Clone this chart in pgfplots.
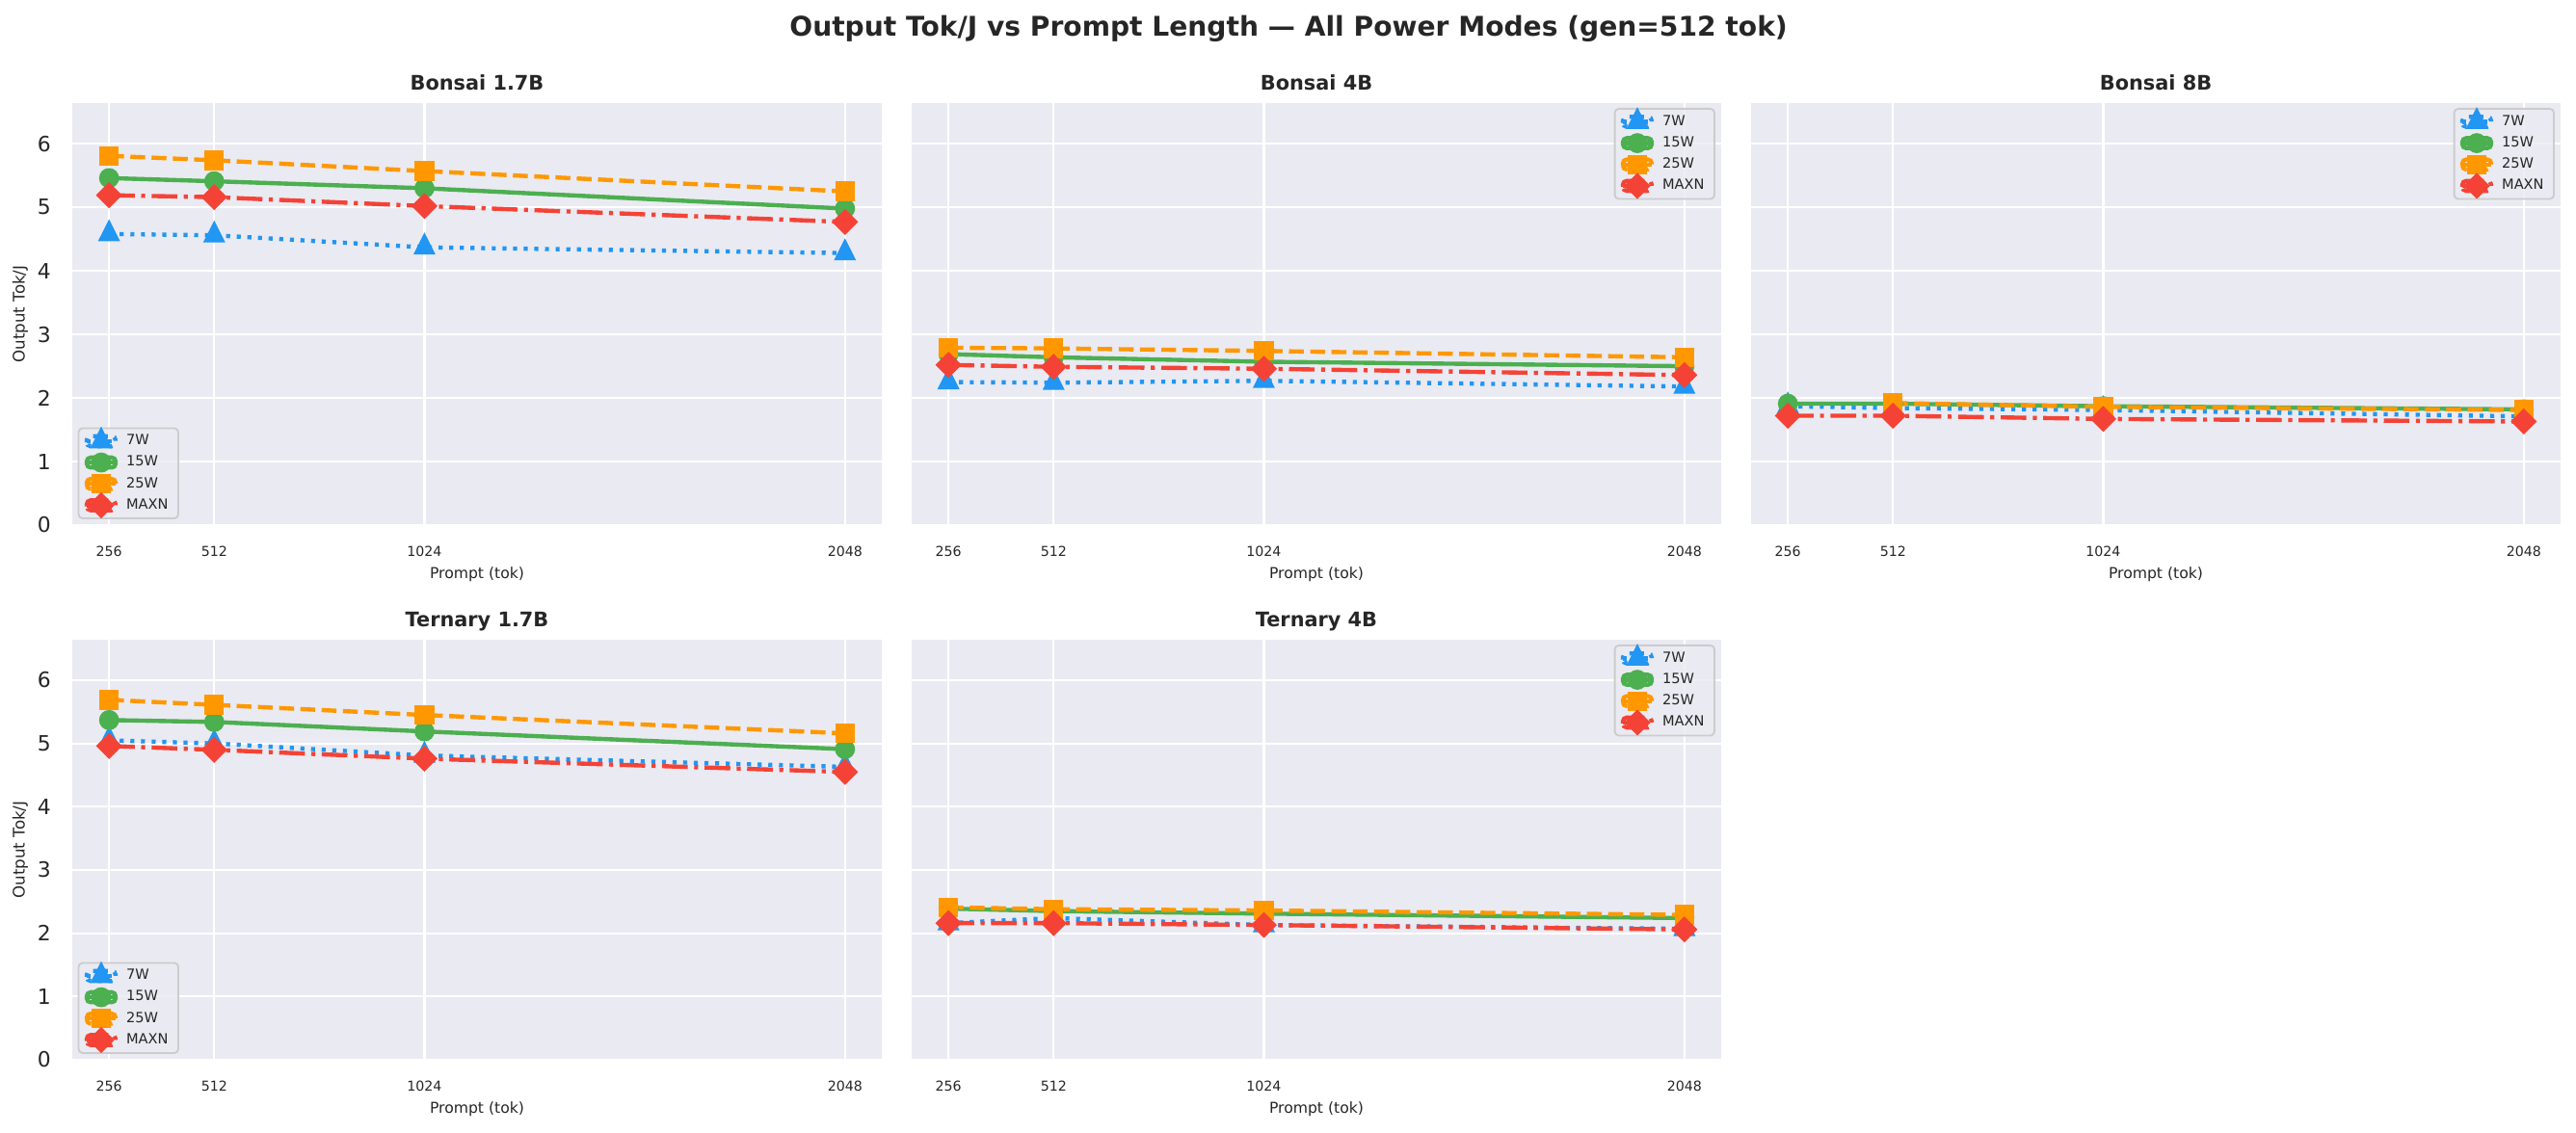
\documentclass[border=0pt]{standalone}
\usepackage{fontspec}
\setmainfont{DejaVu Sans}
\usepackage{pgfplots}
\usepackage{pgfplotstable}
\pgfplotsset{compat=1.18}

\definecolor{bgcol}{HTML}{EAEAF2}
\definecolor{c7}{HTML}{2196F3}
\definecolor{c15}{HTML}{4CAF50}
\definecolor{c25}{HTML}{FF9800}
\definecolor{cmx}{HTML}{F44336}
\definecolor{legedge}{HTML}{CCCCCC}
\definecolor{txt}{HTML}{262626}

\pgfplotstableread{
x w7 w15 w25 mx
256  4.58 5.46 5.81 5.19
512  4.56 5.41 5.74 5.16
1024 4.37 5.30 5.57 5.02
2048 4.28 4.98 5.25 4.77
}\tBa
\pgfplotstableread{
x w7 w15 w25 mx
256  2.25 2.69 2.79 2.52
512  2.24 2.64 2.78 2.49
1024 2.27 2.57 2.74 2.46
2048 2.18 2.50 2.64 2.36
}\tBb
\pgfplotstableread{
x w7 w15 w25 mx
256  1.87 1.91 nan  1.72
512  1.84 1.91 1.92 1.72
1024 1.81 1.87 1.86 1.67
2048 1.71 1.82 1.81 1.63
}\tBc
\pgfplotstableread{
x w7 w15 w25 mx
256  5.05 5.37 5.69 4.96
512  5.00 5.34 5.61 4.90
1024 4.81 5.19 5.45 4.76
2048 4.63 4.91 5.16 4.55
}\tTa
\pgfplotstableread{
x w7 w15 w25 mx
256  2.16 2.39 2.41 2.16
512  2.24 2.35 2.38 2.16
1024 2.13 2.31 2.36 2.13
2048 2.07 2.24 2.29 2.06
}\tTb

\pgfplotsset{
  s7/.style={c7, line width=2.1pt, dash pattern=on 2pt off 3.3pt, mark=triangle*, mark size=4.4pt,
    mark options={solid, sharp corners, draw=none, fill=c7, yscale=1.15}},
  s15/.style={c15, line width=2.1pt, solid, mark=*, mark size=3.92pt,
    mark options={solid, sharp corners, draw=none, fill=c15}},
  s25/.style={c25, line width=2.1pt, dash pattern=on 7.4pt off 3.2pt, mark=square*, mark size=3.84pt,
    mark options={solid, sharp corners, draw=none, fill=c25}},
  smx/.style={cmx, line width=2.1pt, dash pattern=on 12.8pt off 3.2pt on 2pt off 3.2pt, mark=square*, mark size=3.56pt,
    mark options={solid, sharp corners, draw=none, fill=cmx, rotate=45}},
  panel/.style={
    scale only axis, width=403.2pt,
    xmin=166.4, xmax=2137.6, ymin=0, ymax=6.64,
    xtick={256,512,1024,2048}, xticklabels={256,512,1024,2048},
    ytick={0,1,2,3,4,5,6},
    grid=major, major grid style={white, line width=1.1pt},
    axis background/.style={fill=bgcol},
    axis line style={draw=none},
    major tick length=0pt,
    /pgf/number format/assume math mode=true,
    xticklabel style={font=\fontsize{6.8}{8}\selectfont, yshift=-7.2pt},
    yticklabel style={font=\fontsize{10.5}{12}\selectfont, xshift=-7.1pt},
    xlabel={Prompt (tok)},
    xlabel style={font=\fontsize{7.5}{9}\selectfont, at={(axis description cs:0.5,-0.118)}, anchor=center},
    ylabel style={font=\fontsize{8}{9.6}\selectfont, at={(axis description cs:-0.0643,0.5)}, anchor=center},
    title style={font=\bfseries\fontsize{10}{12}\selectfont, at={(axis description cs:0.5,1.002)}, anchor=base},
    legend cell align=left,
    legend image code/.code={%
      \begin{pgfinterruptboundingbox}
      \draw[sharp corners,opacity=1,#1,mark=none] (0pt,0pt) -- (14.4pt,0pt);
      \path[sharp corners,opacity=1,#1] plot coordinates {(7.2pt,0pt)};
      \end{pgfinterruptboundingbox}
      \path (0pt,-2.5pt) rectangle (14.4pt,2.5pt);
    },
    legend style={fill=bgcol, fill opacity=0.8, draw opacity=1, text opacity=1, draw=legedge, line width=0.9pt,
      rounded corners=2pt, font=\fontsize{7}{8.4}\selectfont, inner xsep=3pt, inner ysep=1.2pt,
      /tikz/every odd column/.append style={column sep=2.3pt}},
  },
  legSW/.style={legend style={at={(0,0)}, anchor=south west, xshift=2.7pt, yshift=2.9pt}},
  legNE/.style={legend style={at={(1,1)}, anchor=north east, xshift=-2.9pt, yshift=-2.4pt}},
}

\begin{document}
\begin{tikzpicture}[text=txt]
\path[use as bounding box] (0pt,0pt) rectangle (1283.04pt,564.48pt);
\node[anchor=base, font=\bfseries\fontsize{13.5}{16}\selectfont] at (641.8pt,546.6pt)
  {Output Tok/J vs Prompt Length — All Power Modes (gen=512 tok)};

% Bonsai 1.7B
\begin{axis}[panel, legSW, at={(36.0pt,302.88pt)}, anchor=south west, height=210.24pt,
  title={Bonsai 1.7B}, ylabel={Output Tok/J}]
\addplot[s7]  table[x=x,y=w7]  {\tBa};
\addplot[s15] table[x=x,y=w15] {\tBa};
\addplot[s25] table[x=x,y=w25] {\tBa};
\addplot[smx] table[x=x,y=mx]  {\tBa};
\legend{7W,15W,25W,MAXN}
\end{axis}

% Bonsai 4B
\begin{axis}[panel, legNE, at={(454.08pt,302.88pt)}, anchor=south west, height=210.24pt,
  title={Bonsai 4B}, yticklabels={}]
\addplot[s7]  table[x=x,y=w7]  {\tBb};
\addplot[s15] table[x=x,y=w15] {\tBb};
\addplot[s25] table[x=x,y=w25] {\tBb};
\addplot[smx] table[x=x,y=mx]  {\tBb};
\legend{7W,15W,25W,MAXN}
\end{axis}

% Bonsai 8B
\begin{axis}[panel, legNE, at={(872.16pt,302.88pt)}, anchor=south west, height=210.24pt,
  title={Bonsai 8B}, yticklabels={}]
\addplot[s7]  table[x=x,y=w7]  {\tBc};
\addplot[s15] table[x=x,y=w15] {\tBc};
\addplot[s25] table[x=x,y=w25] {\tBc};
\addplot[smx] table[x=x,y=mx]  {\tBc};
\legend{7W,15W,25W,MAXN}
\end{axis}

% Ternary 1.7B
\begin{axis}[panel, legSW, at={(36.0pt,36.48pt)}, anchor=south west, height=209.28pt,
  title={Ternary 1.7B}, ylabel={Output Tok/J}]
\addplot[s7]  table[x=x,y=w7]  {\tTa};
\addplot[s15] table[x=x,y=w15] {\tTa};
\addplot[s25] table[x=x,y=w25] {\tTa};
\addplot[smx] table[x=x,y=mx]  {\tTa};
\legend{7W,15W,25W,MAXN}
\end{axis}

% Ternary 4B
\begin{axis}[panel, legNE, at={(454.08pt,36.48pt)}, anchor=south west, height=209.28pt,
  title={Ternary 4B}, yticklabels={}]
\addplot[s7]  table[x=x,y=w7]  {\tTb};
\addplot[s15] table[x=x,y=w15] {\tTb};
\addplot[s25] table[x=x,y=w25] {\tTb};
\addplot[smx] table[x=x,y=mx]  {\tTb};
\legend{7W,15W,25W,MAXN}
\end{axis}
\end{tikzpicture}
\end{document}
